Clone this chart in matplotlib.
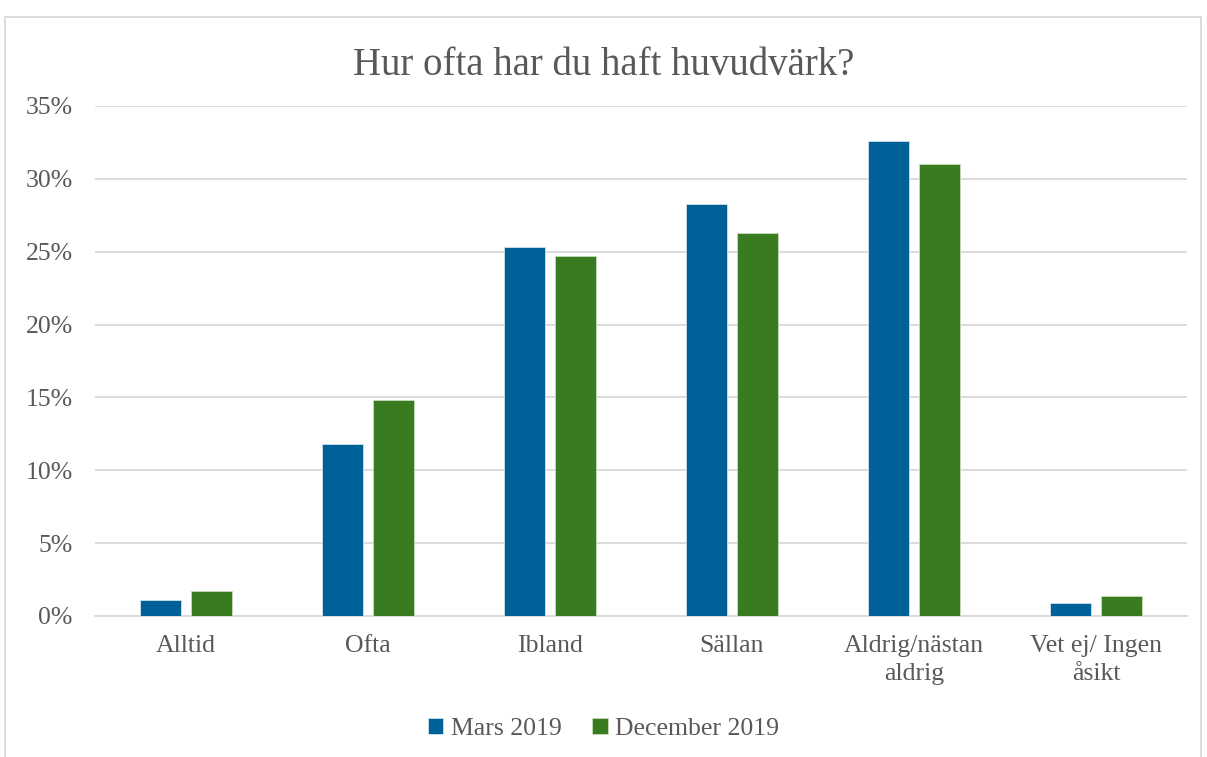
import numpy as np
import matplotlib.pyplot as plt
from matplotlib.patches import Rectangle

categories = ['Alltid', 'Ofta', 'Ibland', 'Sällan', 'Aldrig/nästan\naldrig', 'Vet ej/ Ingen\nåsikt']
mars = [1.1, 11.8, 25.3, 28.3, 32.6, 0.9]
december = [1.7, 14.8, 24.7, 26.3, 31.0, 1.4]
series = ['Mars 2019', 'December 2019']
colors = ['#006199', '#387B21']
text_col = '#595959'

plt.rcParams['font.family'] = ['Liberation Serif', 'DejaVu Serif']

fig = plt.figure(figsize=(12.07, 7.57), dpi=100)
ax = fig.add_axes([0.0787, 0.1863, 0.9047, 0.6737])

x = np.arange(len(categories))
w = 0.225
off = 0.14
ax.bar(x - off, mars, w, color=colors[0], edgecolor='#cfe0ec', linewidth=0.6, label=series[0], zorder=3)
ax.bar(x + off, december, w, color=colors[1], edgecolor='#c9dcc0', linewidth=0.6, label=series[1], zorder=3)

ax.set_xlim(-0.5, len(categories) - 0.5)
ax.set_ylim(0, 35)
ax.set_yticks(np.arange(0, 36, 5))
ax.set_yticklabels([f'{v}%' for v in range(0, 36, 5)])
ax.set_xticks(x)
ax.set_xticklabels(categories, linespacing=1.3)
ax.tick_params(axis='both', length=0, labelsize=18.5, colors=text_col)
ax.tick_params(axis='y', pad=16)
ax.tick_params(axis='x', pad=14)
ax.grid(axis='y', color='#d9d9d9', linewidth=1.3, zorder=0)
for s in ['top', 'right', 'left']:
    ax.spines[s].set_visible(False)
ax.spines['bottom'].set_color('#d9d9d9')
ax.spines['bottom'].set_linewidth(1.3)

fig.text(0.5, 0.913, 'Hur ofta har du haft huvudvärk?', ha='center', va='center',
         fontsize=28, color=text_col)

leg = fig.legend(loc='center', bbox_to_anchor=(0.5, 0.037), ncol=2, frameon=False,
                 fontsize=18.5, handlelength=0.6, handleheight=0.6, handletextpad=0.3,
                 columnspacing=1.2, labelcolor=text_col)

fig.patches.append(Rectangle((5 / 1207, -0.1), 1196 / 1207, 1.1 - 17 / 757,
                             transform=fig.transFigure, fill=False,
                             edgecolor='#d9d9d9', linewidth=1.3))

fig.savefig('out.png', dpi=100)
